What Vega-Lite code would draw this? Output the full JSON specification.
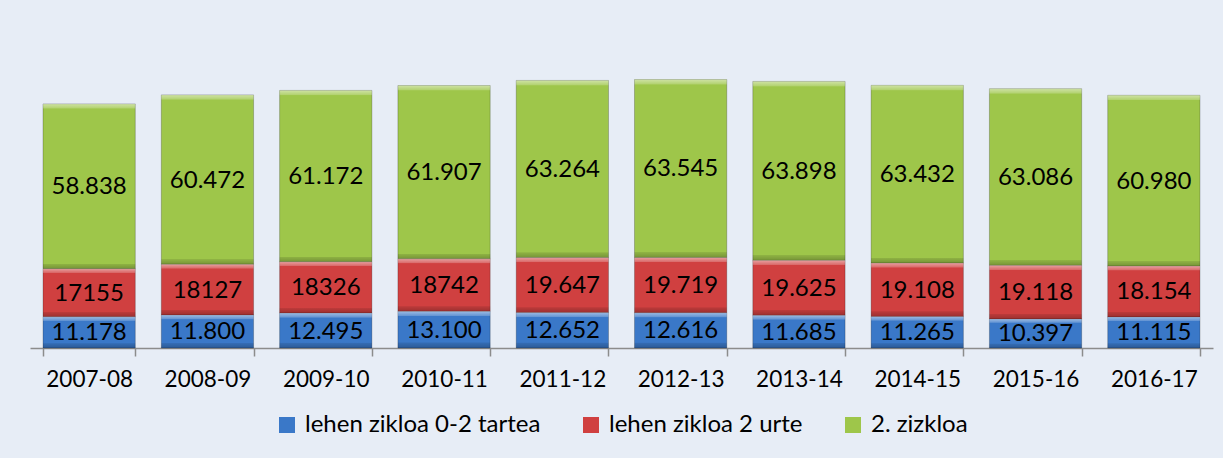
{
  "$schema": "https://vega.github.io/schema/vega-lite/v6.json",
  "width": 1183,
  "height": 336,
  "padding": {"left": 30, "top": 12, "right": 10, "bottom": 30},
  "background": "#E7EDF6",
  "config": {"view": {"stroke": null}, "font": "Lato", "legend": {"layout": {"bottom": {"anchor": "middle"}}}},
  "data": {"values": [
    {"year": "2007-08", "series": "lehen zikloa 0-2 tartea", "ord": 1, "value": 11178, "label": "11.178"},
    {"year": "2007-08", "series": "lehen zikloa 2 urte", "ord": 2, "value": 17155, "label": "17155"},
    {"year": "2007-08", "series": "2. zizkloa", "ord": 3, "value": 58838, "label": "58.838"},
    {"year": "2008-09", "series": "lehen zikloa 0-2 tartea", "ord": 1, "value": 11800, "label": "11.800"},
    {"year": "2008-09", "series": "lehen zikloa 2 urte", "ord": 2, "value": 18127, "label": "18127"},
    {"year": "2008-09", "series": "2. zizkloa", "ord": 3, "value": 60472, "label": "60.472"},
    {"year": "2009-10", "series": "lehen zikloa 0-2 tartea", "ord": 1, "value": 12495, "label": "12.495"},
    {"year": "2009-10", "series": "lehen zikloa 2 urte", "ord": 2, "value": 18326, "label": "18326"},
    {"year": "2009-10", "series": "2. zizkloa", "ord": 3, "value": 61172, "label": "61.172"},
    {"year": "2010-11", "series": "lehen zikloa 0-2 tartea", "ord": 1, "value": 13100, "label": "13.100"},
    {"year": "2010-11", "series": "lehen zikloa 2 urte", "ord": 2, "value": 18742, "label": "18742"},
    {"year": "2010-11", "series": "2. zizkloa", "ord": 3, "value": 61907, "label": "61.907"},
    {"year": "2011-12", "series": "lehen zikloa 0-2 tartea", "ord": 1, "value": 12652, "label": "12.652"},
    {"year": "2011-12", "series": "lehen zikloa 2 urte", "ord": 2, "value": 19647, "label": "19.647"},
    {"year": "2011-12", "series": "2. zizkloa", "ord": 3, "value": 63264, "label": "63.264"},
    {"year": "2012-13", "series": "lehen zikloa 0-2 tartea", "ord": 1, "value": 12616, "label": "12.616"},
    {"year": "2012-13", "series": "lehen zikloa 2 urte", "ord": 2, "value": 19719, "label": "19.719"},
    {"year": "2012-13", "series": "2. zizkloa", "ord": 3, "value": 63545, "label": "63.545"},
    {"year": "2013-14", "series": "lehen zikloa 0-2 tartea", "ord": 1, "value": 11685, "label": "11.685"},
    {"year": "2013-14", "series": "lehen zikloa 2 urte", "ord": 2, "value": 19625, "label": "19.625"},
    {"year": "2013-14", "series": "2. zizkloa", "ord": 3, "value": 63898, "label": "63.898"},
    {"year": "2014-15", "series": "lehen zikloa 0-2 tartea", "ord": 1, "value": 11265, "label": "11.265"},
    {"year": "2014-15", "series": "lehen zikloa 2 urte", "ord": 2, "value": 19108, "label": "19.108"},
    {"year": "2014-15", "series": "2. zizkloa", "ord": 3, "value": 63432, "label": "63.432"},
    {"year": "2015-16", "series": "lehen zikloa 0-2 tartea", "ord": 1, "value": 10397, "label": "10.397"},
    {"year": "2015-16", "series": "lehen zikloa 2 urte", "ord": 2, "value": 19118, "label": "19.118"},
    {"year": "2015-16", "series": "2. zizkloa", "ord": 3, "value": 63086, "label": "63.086"},
    {"year": "2016-17", "series": "lehen zikloa 0-2 tartea", "ord": 1, "value": 11115, "label": "11.115"},
    {"year": "2016-17", "series": "lehen zikloa 2 urte", "ord": 2, "value": 18154, "label": "18.154"},
    {"year": "2016-17", "series": "2. zizkloa", "ord": 3, "value": 60980, "label": "60.980"}
  ]},
  "transform": [
    {"stack": "value", "groupby": ["year"], "sort": [{"field": "ord", "order": "ascending"}], "as": ["v0", "v1"]}
  ],
  "encoding": {
    "x": {
      "field": "year", "type": "ordinal",
      "scale": {"paddingInner": 0.22, "paddingOuter": 0.11},
      "axis": {
        "title": null, "labelAngle": 0, "tickBand": "extent",
        "domainColor": "#8c8c8c", "domainWidth": 1.5,
        "tickColor": "#8c8c8c", "tickWidth": 1.5, "tickSize": 8,
        "labelFontSize": 22.5, "labelFont": "Lato", "labelColor": "#000000", "labelPadding": 12
      }
    }
  },
  "layer": [
    {
      "mark": {"type": "bar", "stroke": "#00000038", "strokeWidth": 1},
      "encoding": {
        "y": {"field": "v0", "type": "quantitative", "scale": {"domain": [0, 120000], "nice": false}, "axis": null},
        "y2": {"field": "v1"},
        "color": {
          "field": "series", "type": "nominal",
          "scale": {"domain": ["lehen zikloa 0-2 tartea", "lehen zikloa 2 urte", "2. zizkloa"], "range": ["#3A78C8", "#D04040", "#9EC64A"]},
          "legend": {
            "orient": "bottom", "direction": "horizontal", "title": null,
            "symbolType": "square", "symbolSize": 256, "symbolStrokeWidth": 0,
            "labelFontSize": 24, "labelFont": "Lato", "labelColor": "#000000", "labelLimit": 0,
            "columnPadding": 38, "labelOffset": 6, "offset": 22
          }
        }
      }
    },
    {
      "transform": [{"filter": "datum.ord == 1"}],
      "mark": {
        "type": "bar",
        "fill": {"gradient": "linear", "x1": 0, "y1": 0, "x2": 0, "y2": 1, "stops": [
          {"offset": 0, "color": "rgba(255,255,255,0.5)"},
          {"offset": 0.12, "color": "rgba(255,255,255,0.22)"},
          {"offset": 0.14, "color": "rgba(255,255,255,0)"},
          {"offset": 0.84, "color": "rgba(0,0,0,0)"},
          {"offset": 0.86, "color": "rgba(0,0,0,0.1)"},
          {"offset": 1, "color": "rgba(0,0,0,0.25)"}
        ]}
      },
      "encoding": {"y": {"field": "v0", "type": "quantitative"}, "y2": {"field": "v1"}}
    },
    {
      "transform": [{"filter": "datum.ord == 2"}],
      "mark": {
        "type": "bar",
        "fill": {"gradient": "linear", "x1": 0, "y1": 0, "x2": 0, "y2": 1, "stops": [
          {"offset": 0, "color": "rgba(255,255,255,0.5)"},
          {"offset": 0.08, "color": "rgba(255,255,255,0.22)"},
          {"offset": 0.09, "color": "rgba(255,255,255,0)"},
          {"offset": 0.9, "color": "rgba(0,0,0,0)"},
          {"offset": 0.91, "color": "rgba(0,0,0,0.1)"},
          {"offset": 1, "color": "rgba(0,0,0,0.25)"}
        ]}
      },
      "encoding": {"y": {"field": "v0", "type": "quantitative"}, "y2": {"field": "v1"}}
    },
    {
      "transform": [{"filter": "datum.ord == 3"}],
      "mark": {
        "type": "bar",
        "fill": {"gradient": "linear", "x1": 0, "y1": 0, "x2": 0, "y2": 1, "stops": [
          {"offset": 0, "color": "rgba(255,255,255,0.5)"},
          {"offset": 0.025, "color": "rgba(255,255,255,0.22)"},
          {"offset": 0.03, "color": "rgba(255,255,255,0)"},
          {"offset": 0.97, "color": "rgba(0,0,0,0)"},
          {"offset": 0.972, "color": "rgba(0,0,0,0.1)"},
          {"offset": 1, "color": "rgba(0,0,0,0.25)"}
        ]}
      },
      "encoding": {"y": {"field": "v0", "type": "quantitative"}, "y2": {"field": "v1"}}
    },
    {
      "mark": {"type": "text", "fontSize": 24, "font": "Lato", "color": "#000000", "baseline": "middle", "dy": 1,
        "y": {"expr": "scale('y', (datum.v0 + datum.v1) / 2)"}},
      "encoding": {"text": {"field": "label"}}
    }
  ]
}
